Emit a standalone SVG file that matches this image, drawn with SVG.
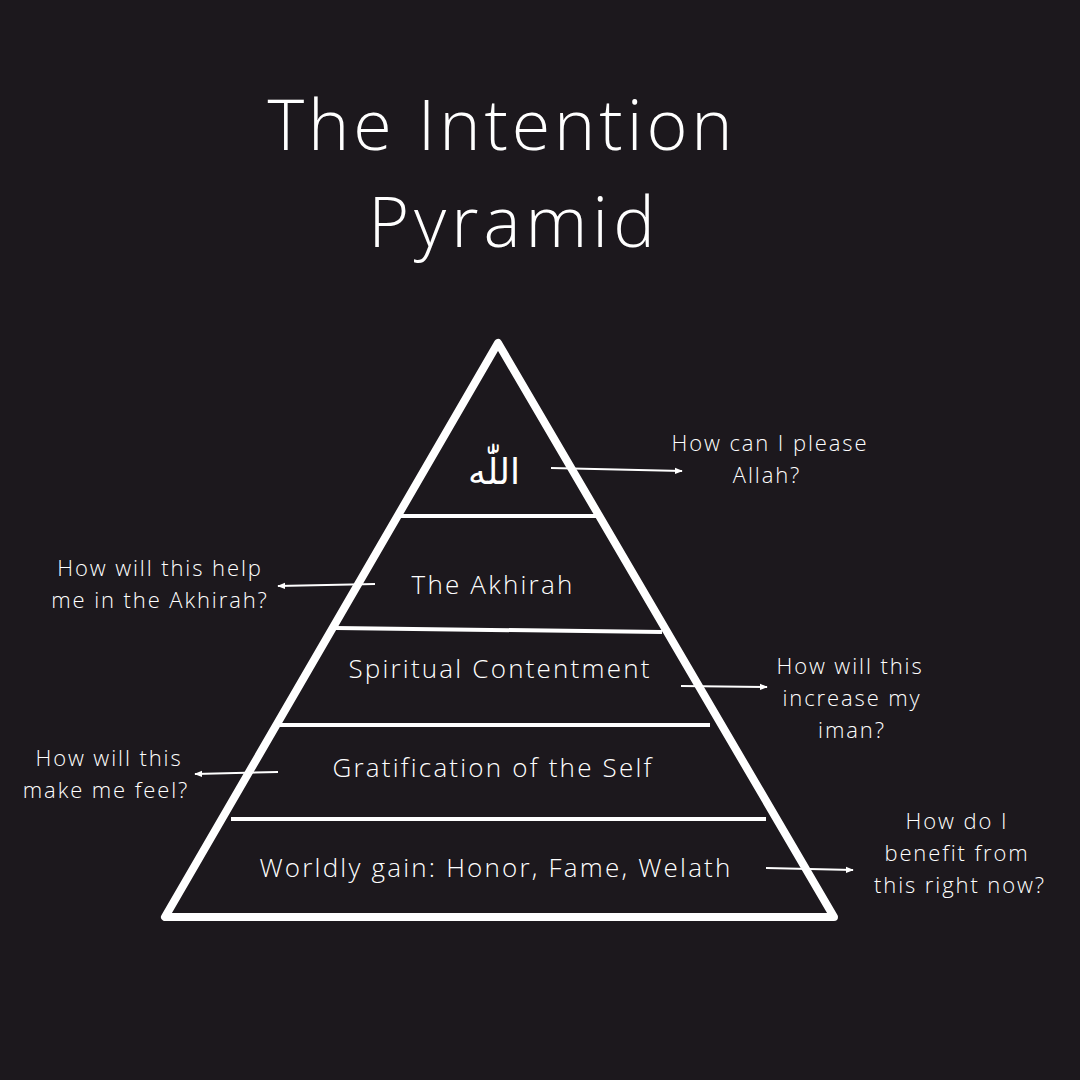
<svg xmlns="http://www.w3.org/2000/svg" width="1080" height="1080" viewBox="0 0 1080 1080">
<defs>
<style>
.t{font-family:"Open Sans","DejaVu Sans",sans-serif;fill:#ffffff;text-anchor:middle;font-weight:300;}
.title{font-size:70px;}
.tier{font-size:26px;letter-spacing:2.2px;}
.q{font-size:22px;letter-spacing:1.9px;}
.div{stroke:#ffffff;stroke-width:4;}
.arr{stroke:#ffffff;stroke-width:2;fill:none;}
</style>
<marker id="ah2" viewBox="0 0 10 10" refX="9" refY="5" markerWidth="8" markerHeight="8" orient="auto" markerUnits="userSpaceOnUse">
<path d="M0,1 L10,5 L0,9 z" fill="#ffffff"/>
</marker>
</defs>
<rect width="1080" height="1080" fill="#1c181d"/>
<g id="title">
<text class="t title" x="502" y="150" style="letter-spacing:3.9px">The Intention</text>
<text class="t title" x="514" y="247" style="letter-spacing:5px">Pyramid</text>
</g>
<g id="pyramid">
<path d="M498,343 L165,917 L834,917 Z" fill="none" stroke="#ffffff" stroke-width="8" stroke-linejoin="round"/>
<line class="div" x1="398" y1="516" x2="600" y2="516"/>
<line class="div" x1="336" y1="628" x2="662" y2="632"/>
<line class="div" x1="280" y1="725" x2="710" y2="725"/>
<line class="div" x1="231" y1="819" x2="766" y2="819"/>
</g>
<g id="tier-allah"><text x="494" y="484" fill="#ffffff" text-anchor="middle" style="font-size:36px;font-family:'DejaVu Sans',sans-serif">اللّٰه</text></g>
<g id="tier-akhirah"><text class="t tier" x="493" y="594">The Akhirah</text></g>
<g id="tier-spiritual"><text class="t tier" x="500" y="678">Spiritual Contentment</text></g>
<g id="tier-gratification"><text class="t tier" x="493" y="777">Gratification of the Self</text></g>
<g id="tier-worldly"><text class="t tier" x="496" y="877">Worldly gain: Honor, Fame, Welath</text></g>
<g id="q-allah"><text class="t q" x="770" y="451">How can I please</text><text class="t q" x="767" y="483">Allah?</text></g>
<g id="q-akhirah"><text class="t q" x="160" y="576">How will this help</text><text class="t q" x="160" y="608">me in the Akhirah?</text></g>
<g id="q-spiritual"><text class="t q" x="850" y="674">How will this</text><text class="t q" x="852" y="706">increase my</text><text class="t q" x="852" y="738">iman?</text></g>
<g id="q-gratification"><text class="t q" x="109" y="766">How will this</text><text class="t q" x="106" y="798">make me feel?</text></g>
<g id="q-worldly"><text class="t q" x="957" y="829">How do I</text><text class="t q" x="957" y="861">benefit from</text><text class="t q" x="960" y="893">this right now?</text></g>
<g id="connectors">
<line class="arr" x1="551" y1="468" x2="682" y2="471" marker-end="url(#ah2)"/>
<line class="arr" x1="375" y1="584" x2="278" y2="586" marker-end="url(#ah2)"/>
<line class="arr" x1="681" y1="686" x2="767" y2="687" marker-end="url(#ah2)"/>
<line class="arr" x1="278" y1="772" x2="195" y2="774" marker-end="url(#ah2)"/>
<line class="arr" x1="766" y1="868" x2="853" y2="870" marker-end="url(#ah2)"/>
</g>
</svg>
